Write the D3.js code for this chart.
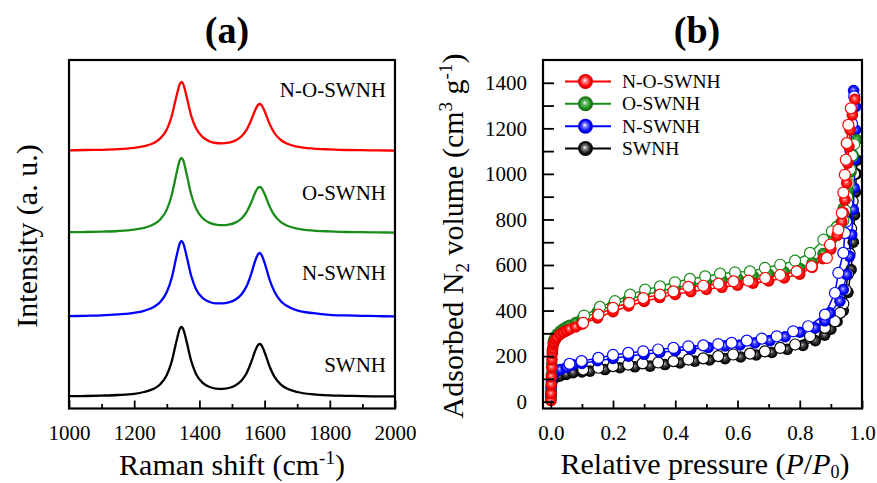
<!DOCTYPE html>
<html><head><meta charset="utf-8">
<script src="https://cdn.jsdelivr.net/npm/d3@7"></script>
<style>
body{margin:0;background:#fff;}
svg text{font-family:"Liberation Serif","Times New Roman",serif;fill:#000;}
</style></head><body>
<svg id="c" width="877" height="483"></svg>
<script>
// ---------- Panel (a): Raman spectra ----------
const ramanShift = [1000,1050,1100,1150,1200,1230,1260,1280,1300,1315,1330,1340,1345,1350,1360,1375,1390,1410,1430,1450,1470,1490,1510,1530,1545,1560,1570,1580,1585,1590,1600,1615,1630,1650,1670,1700,1750,1800,1850,1900,1950,2000];
const ramanSWNH  = [5.9,6.0,6.2,6.5,7.1,8.0,9.6,11.9,16.5,23.2,33.6,39.6,40.5,39.6,33.7,23.5,16.9,12.6,10.6,9.7,9.6,10.0,11.3,13.9,17.5,23.4,28.1,31.5,32.0,31.5,27.9,20.9,15.7,11.7,9.6,8.0,6.8,6.3,6.1,5.9,5.8,5.8];
const ramanNSWNH = [45.9,46.1,46.3,46.8,47.6,48.6,50.5,53.0,58.0,65.0,76.0,82.4,83.5,82.5,76.5,66.0,59.3,55.0,53.1,52.3,52.3,52.8,54.1,57.0,61.0,67.6,73.0,76.9,77.5,76.7,72.6,64.3,58.2,53.4,50.9,48.8,47.4,46.6,46.3,46.1,45.9,45.8];
const ramanOSWNH = [87.9,88.0,88.2,88.5,89.2,90.1,91.9,94.3,99.2,106.4,117.5,124.0,125.0,124.0,117.6,106.6,99.6,94.9,92.7,91.7,91.4,91.7,92.7,94.9,98.1,103.1,107.2,110.1,110.6,110.1,107.0,100.9,96.4,92.9,91.1,89.7,88.7,88.3,88.0,87.9,87.8,87.7];
const ramanNOSWNH = [128.8,129.0,129.1,129.4,130.1,130.9,132.5,134.8,139.3,145.9,156.1,162.0,163.0,162.1,156.2,146.1,139.7,135.4,133.4,132.5,132.3,132.7,133.7,136.0,139.2,144.4,148.5,151.6,152.0,151.5,148.4,142.2,137.5,134.0,132.1,130.7,129.7,129.3,129.0,128.9,128.8,128.7];
const ramanTicks = [1000,1200,1400,1600,1800,2000];
const ramanMinorTicks = [1100,1300,1500,1700,1900];

// ---------- Panel (b): N2 isotherms ----------
const seriesNames = ["N-O-SWNH","O-SWNH","N-SWNH","SWNH"];
const seriesColors = ["#ff0000","#1a8c1a","#0000ff","#000000"];

const pNOads = [0.0005,0.001,0.0015,0.002,0.003,0.004,0.005,0.006,0.008,0.01,0.015,0.02,0.03,0.04,0.05,0.06,0.08,0.1,0.15,0.2,0.25,0.3,0.35,0.4,0.45,0.5,0.55,0.6,0.65,0.7,0.75,0.8,0.84,0.875,0.9,0.92,0.935,0.94,0.945,0.951,0.954,0.958,0.962,0.969,0.977];
const vNOads = [5,35,75,110,150,185,212,232,250,260,273,283,295,304,311,318,328,340,368,395,420,440,457,471,483,493,502,511,520,530,543,560,590,628,670,730,790,830,886,960,1047,1120,1193,1259,1328];
const pNOdes = [0.964,0.956,0.951,0.948,0.945,0.94,0.935,0.924,0.897,0.887,0.838,0.79,0.737,0.689,0.635,0.587,0.539,0.49,0.442,0.394,0.351,0.297,0.252,0.2,0.153,0.104];
const vNOdes = [1288,1215,1135,1062,996,918,828,755,689,631,594,572,556,543,531,528,518,509,504,484,470,455,434,412,382,346];

const pOads = [0.0005,0.001,0.002,0.003,0.005,0.008,0.01,0.015,0.02,0.03,0.04,0.05,0.06,0.08,0.1,0.15,0.2,0.25,0.3,0.35,0.4,0.45,0.5,0.55,0.6,0.65,0.7,0.75,0.8,0.84,0.875,0.9,0.92,0.94,0.955,0.965,0.972,0.983];
const vOads = [10,40,120,165,225,262,272,287,297,310,320,328,335,347,362,395,425,450,468,485,500,513,525,535,543,552,560,570,585,610,650,705,770,850,930,1010,1080,1150];
const pOdes = [0.975,0.968,0.962,0.957,0.952,0.946,0.94,0.93,0.918,0.903,0.876,0.833,0.785,0.737,0.688,0.64,0.592,0.544,0.496,0.447,0.399,0.351,0.303,0.255,0.206,0.158,0.107];
const vOdes = [1130,1080,1020,960,900,840,795,780,765,748,711,653,619,601,587,572,568,562,550,539,524,506,492,470,441,416,378];

const pNads = [0.0005,0.001,0.002,0.004,0.007,0.01,0.02,0.03,0.05,0.072,0.1,0.15,0.2,0.25,0.3,0.35,0.4,0.45,0.506,0.56,0.608,0.656,0.704,0.753,0.8,0.849,0.88,0.897,0.929,0.94,0.951,0.96,0.967,0.972,0.975,0.977,0.979,0.979,0.973];
const vNads = [30,60,85,105,118,127,135,141,150,162,168,180,190,200,208,216,224,231,238,245,249,258,268,285,305,324,355,390,441,492,558,638,733,843,938,1062,1193,1295,1366];
const pNdes = [0.975,0.968,0.963,0.958,0.953,0.949,0.945,0.94,0.924,0.913,0.881,0.827,0.779,0.726,0.678,0.63,0.581,0.538,0.49,0.442,0.394,0.345,0.297,0.249,0.2,0.153,0.099,0.06];
const vNdes = [1340,1220,1100,980,870,790,740,653,565,477,382,331,309,287,277,268,258,253,247,243,236,229,221,214,205,192,178,166];

const pSads = [0.0005,0.001,0.002,0.004,0.007,0.01,0.02,0.03,0.05,0.072,0.1,0.126,0.174,0.222,0.27,0.319,0.367,0.415,0.463,0.51,0.56,0.61,0.66,0.71,0.76,0.81,0.85,0.88,0.9,0.92,0.94,0.955,0.965,0.972,0.976,0.979,0.982,0.984];
const vSads = [20,45,70,88,98,104,110,113,120,127,131,134,141,149,153,156,163,170,178,183,189,196,205,216,230,247,268,292,318,352,400,480,580,700,820,920,1000,1060];
const pSdes = [0.975,0.97,0.965,0.96,0.955,0.948,0.94,0.93,0.913,0.881,0.833,0.785,0.737,0.688,0.64,0.586,0.538,0.49,0.442,0.394,0.345,0.295,0.249,0.2,0.153,0.104];
const vSdes = [1000,880,760,650,560,490,430,390,353,324,287,251,236,221,211,207,200,190,185,178,172,168,163,156,149,141];

const bTicksX = [0,0.2,0.4,0.6,0.8,1.0];
const bMinorX = [0.1,0.3,0.5,0.7,0.9];
const bTicksY = [0,200,400,600,800,1000,1200,1400];
const bMinorY = [100,300,500,700,900,1100,1300];

// ---------- drawing ----------
const svg = d3.select("#c");
const defs = svg.append("defs");

function grad(id, c0, c1, c2, c3){
  const g = defs.append("radialGradient").attr("id", id)
    .attr("cx","50%").attr("cy","50%").attr("r","55%").attr("fx","45%").attr("fy","42%");
  g.append("stop").attr("offset","0%").attr("stop-color", c0);
  g.append("stop").attr("offset","25%").attr("stop-color", c1);
  g.append("stop").attr("offset","65%").attr("stop-color", c2);
  g.append("stop").attr("offset","100%").attr("stop-color", c3);
}
const gradStops = [
  ["#ffd0d0","#ff5a5a","#ff0000","#c00000"],
  ["#cfeecf","#45a845","#1a8c1a","#0d5a0d"],
  ["#d0d0ff","#5a5aff","#0000ff","#0000b0"],
  ["#d0d0d0","#555555","#111111","#000000"]
];
const legendStops = [
  ["#ffffff","#ff8080","#ff0000","#c00000"],
  ["#ffffff","#6cbf6c","#1a8c1a","#0d5a0d"],
  ["#ffffff","#8080ff","#0000ff","#0000b0"],
  ["#ffffff","#888888","#111111","#000000"]
];
gradStops.forEach((s,i)=>grad("g"+i, ...s));
legendStops.forEach((s,i)=>grad("lg"+i, ...s));

// ===== Panel A =====
const A = {l:69, r:395, t:60, b:408.5};
const xA = d3.scaleLinear().domain([1000,2000]).range([A.l, A.r]);
const yA = d3.scaleLinear().domain([0,174]).range([408, 60]);

const specs = [ramanNOSWNH, ramanOSWNH, ramanNSWNH, ramanSWNH];
const lineA = d3.line().x((d,i)=>xA(ramanShift[i])).y(d=>yA(d)).curve(d3.curveMonotoneX);
specs.forEach((s,i)=>{
  svg.append("path").attr("d", lineA(s)).attr("fill","none")
    .attr("stroke", seriesColors[i]).attr("stroke-width",2.3).attr("stroke-linejoin","round");
});

const specLabelY = [97, 200, 280, 372];
seriesNames.forEach((n,i)=>{
  svg.append("text").attr("x",386).attr("y",specLabelY[i]).attr("text-anchor","end")
    .attr("font-size",21).text(n);
});

const axA = svg.append("g").attr("transform",`translate(0,${A.b})`)
  .call(d3.axisBottom(xA).tickValues(ramanTicks).tickSize(-8).tickPadding(16.5).tickFormat(d3.format("d")));
const axAm = svg.append("g").attr("transform",`translate(0,${A.b})`)
  .call(d3.axisBottom(xA).tickValues(ramanMinorTicks).tickSize(-4.5).tickFormat(""));

svg.append("rect").attr("x",A.l).attr("y",A.t).attr("width",A.r-A.l).attr("height",A.b-A.t)
  .attr("fill","none").attr("stroke","#000").attr("stroke-width",2.2);

// ===== Panel B =====
const B = {l:543, r:862, t:60, b:408.5};
const xB = d3.scaleLinear().domain([-0.025,1.0]).range([B.l, B.r]);
const yB = d3.scaleLinear().domain([-30,1500]).range([B.b, B.t]);

const iso = [
  {ads:[pSads,vSads], des:[pSdes,vSdes], k:3},
  {ads:[pNads,vNads], des:[pNdes,vNdes], k:2},
  {ads:[pOads,vOads], des:[pOdes,vOdes], k:1},
  {ads:[pNOads,vNOads], des:[pNOdes,vNOdes], k:0}
];
const gB = svg.append("g");
iso.forEach(s=>{
  const col = seriesColors[s.k];
  const mk = (p,v)=>p.map((d,i)=>[xB(d), yB(v[i])]);
  const ads = mk(...s.ads), des = mk(...s.des);
  gB.append("path").attr("d", d3.line()(ads)).attr("fill","none").attr("stroke",col).attr("stroke-width",1.5);
  gB.append("path").attr("d", d3.line()(des)).attr("fill","none").attr("stroke",col).attr("stroke-width",1.5);
  gB.append("g").selectAll("circle").data(ads).join("circle")
    .attr("cx",d=>d[0]).attr("cy",d=>d[1]).attr("r",5.8)
    .attr("fill",`url(#g${s.k})`);
  gB.append("g").selectAll("circle").data(des).join("circle")
    .attr("cx",d=>d[0]).attr("cy",d=>d[1]).attr("r",5.5)
    .attr("fill","#fff").attr("stroke",col).attr("stroke-width",1.2);
});

const axBx = svg.append("g").attr("transform",`translate(0,${B.b})`)
  .call(d3.axisBottom(xB).tickValues(bTicksX).tickSize(-8).tickPadding(16.5).tickFormat(d3.format(".1f")));
const axBxm = svg.append("g").attr("transform",`translate(0,${B.b})`)
  .call(d3.axisBottom(xB).tickValues(bMinorX).tickSize(-4.5).tickFormat(""));
const axBy = svg.append("g").attr("transform",`translate(${B.l},0)`)
  .call(d3.axisLeft(yB).tickValues(bTicksY).tickSize(-11).tickPadding(16).tickFormat(d3.format("d")));
const axBym = svg.append("g").attr("transform",`translate(${B.l},0)`)
  .call(d3.axisLeft(yB).tickValues(bMinorY).tickSize(-11).tickFormat(""));

svg.append("rect").attr("x",B.l).attr("y",B.t).attr("width",B.r-B.l).attr("height",B.b-B.t)
  .attr("fill","none").attr("stroke","#000").attr("stroke-width",2.2);

[axA,axAm,axBx,axBxm,axBy,axBym].forEach(g=>{
  g.select(".domain").remove();
  g.selectAll(".tick line").attr("stroke","#000").attr("stroke-width",1.8);
  g.selectAll(".tick text").attr("font-size",21).attr("font-family","'Liberation Serif','Times New Roman',serif").attr("fill","#000");
});

// legend
const legY = [81.5, 103.8, 126.2, 148.5];
seriesNames.forEach((n,i)=>{
  const y = legY[i];
  svg.append("line").attr("x1",565).attr("x2",611).attr("y1",y).attr("y2",y)
    .attr("stroke",seriesColors[i]).attr("stroke-width",2);
  svg.append("circle").attr("cx",585.5).attr("cy",y).attr("r",7.5).attr("fill",`url(#lg${i})`);
  svg.append("text").attr("x",622).attr("y",y+6.5).attr("font-size",19.5).text(n);
});

// titles
svg.append("text").attr("x",227).attr("y",43).attr("text-anchor","middle")
  .attr("font-size",38).attr("font-weight","bold").text("(a)");
svg.append("text").attr("x",697).attr("y",43).attr("text-anchor","middle")
  .attr("font-size",38).attr("font-weight","bold").text("(b)");

// axis labels
const lblA = svg.append("text").attr("x",232).attr("y",475).attr("text-anchor","middle").attr("font-size",30);
lblA.append("tspan").text("Raman shift (cm");
lblA.append("tspan").attr("font-size",19).attr("dy",-11).text("-1");
lblA.append("tspan").attr("dy",11).text(")");

svg.append("text").attr("transform","translate(37,236) rotate(-90)").attr("text-anchor","middle")
  .attr("font-size",30).text("Intensity (a. u.)");

const lblB = svg.append("text").attr("x",705).attr("y",474).attr("text-anchor","middle").attr("font-size",30);
lblB.append("tspan").text("Relative pressure (");
lblB.append("tspan").attr("font-style","italic").text("P");
lblB.append("tspan").text("/");
lblB.append("tspan").attr("font-style","italic").text("P");
lblB.append("tspan").attr("font-size",18).attr("dy",4).text("0");
lblB.append("tspan").attr("dy",-4).text(")");

const lblBy = svg.append("text").attr("transform","translate(463,236) rotate(-90)").attr("text-anchor","middle").attr("font-size",30);
lblBy.append("tspan").text("Adsorbed N");
lblBy.append("tspan").attr("font-size",19).attr("dy",6).text("2");
lblBy.append("tspan").attr("dy",-6).text(" volume (cm");
lblBy.append("tspan").attr("font-size",19).attr("dy",-11).text("3");
lblBy.append("tspan").attr("dy",11).text(" g");
lblBy.append("tspan").attr("font-size",19).attr("dy",-11).text("-1");
lblBy.append("tspan").attr("dy",11).text(")");
</script>
</body></html>
